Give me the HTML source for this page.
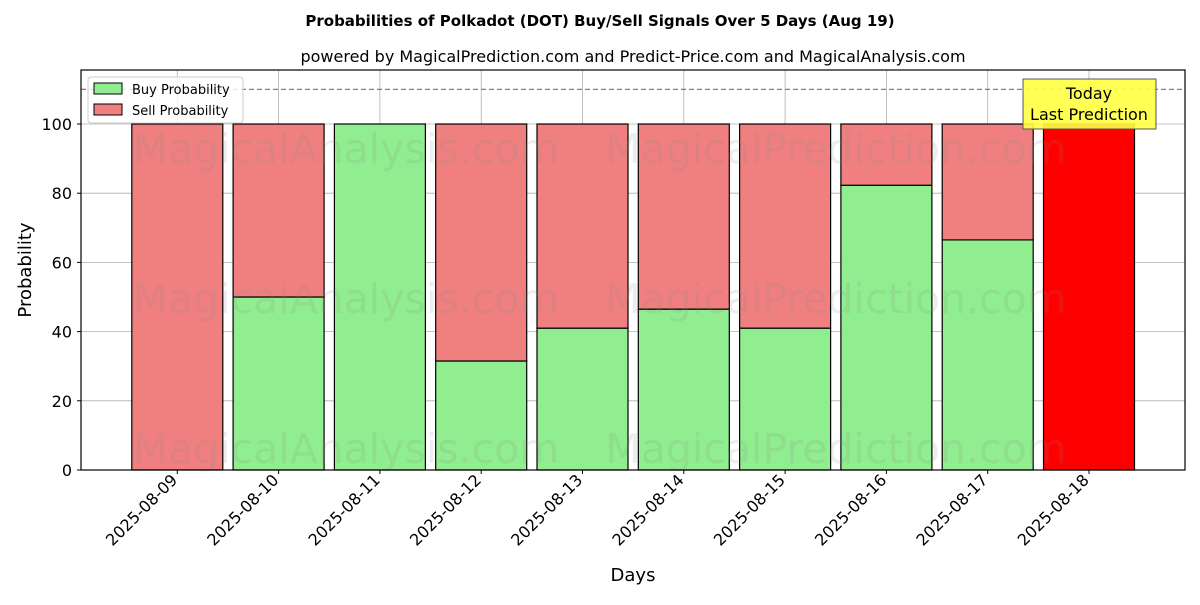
<!DOCTYPE html>
<html><head><meta charset="utf-8"><style>
body{margin:0;background:#fff;font-family:"Liberation Sans","DejaVu Sans",sans-serif;}
</style></head><body>
<svg id="chart" width="1200" height="600" xmlns="http://www.w3.org/2000/svg" font-family="DejaVu Sans, Liberation Sans, sans-serif">
<text x="600" y="26" text-anchor="middle" font-size="15" font-weight="bold">Probabilities of Polkadot (DOT) Buy/Sell Signals Over 5 Days (Aug 19)</text>
<text x="633" y="62" text-anchor="middle" font-size="16">powered by MagicalPrediction.com and Predict-Price.com and MagicalAnalysis.com</text>
<g id="grid"></g>
<g id="bars"></g>
<g id="wm" fill="#888" fill-opacity="0.15" font-size="41">
<text x="346" y="163" text-anchor="middle">MagicalAnalysis.com</text>
<text x="836" y="163" text-anchor="middle">MagicalPrediction.com</text>
<text x="346" y="313" text-anchor="middle">MagicalAnalysis.com</text>
<text x="836" y="313" text-anchor="middle">MagicalPrediction.com</text>
<text x="346" y="463" text-anchor="middle">MagicalAnalysis.com</text>
<text x="836" y="463" text-anchor="middle">MagicalPrediction.com</text>
</g>
<line x1="81" x2="1185" y1="89.4" y2="89.4" stroke="#808080" stroke-width="1.2" stroke-dasharray="5,3"/>
<rect x="81" y="70" width="1104" height="400" fill="none" stroke="#000" stroke-width="1.2"/>
<g id="ticks"></g>
<g>
<rect x="88" y="77" width="155" height="46" fill="#fff" fill-opacity="0.8" stroke="#ccc" rx="3"/>
<rect x="94" y="83" width="28" height="11" fill="#90ee90" stroke="#000"/>
<text x="132" y="94" font-size="13">Buy Probability</text>
<rect x="94" y="104" width="28" height="11" fill="#f08080" stroke="#000"/>
<text x="132" y="115" font-size="13">Sell Probability</text>
</g>
<g>
<rect x="1023" y="79" width="133" height="50" fill="#ffff44" fill-opacity="0.9" stroke="#555"/>
<text x="1089" y="99" text-anchor="middle" font-size="16">Today</text>
<text x="1089" y="120" text-anchor="middle" font-size="16">Last Prediction</text>
</g>
<text x="633" y="581" text-anchor="middle" font-size="18">Days</text>
<text x="31" y="270" text-anchor="middle" font-size="18" transform="rotate(-90 31 270)">Probability</text>
</svg>
<script>
const categories=["2025-08-09","2025-08-10","2025-08-11","2025-08-12","2025-08-13","2025-08-14","2025-08-15","2025-08-16","2025-08-17","2025-08-18"];
const buyValues=[0,50,100,31.5,41,46.5,41,82.3,66.5,0];
const sellValues=[100,50,0,68.5,59,53.5,59,17.7,33.5,100];
const yTicks=[0,20,40,60,80,100];
const NS="http://www.w3.org/2000/svg";
const xs=i=>177.3+(i)*101.3;
const ys=v=>470-v*3.46;
const bw=91;
function mk(tag,attrs,parent){const e=document.createElementNS(NS,tag);for(const k in attrs)e.setAttribute(k,attrs[k]);parent.appendChild(e);return e;}
const grid=document.getElementById('grid'),bars=document.getElementById('bars'),ticks=document.getElementById('ticks');
yTicks.forEach(t=>{
 const l=mk('line',{x1:81,x2:1185,y1:ys(t),y2:ys(t),stroke:'#b0b0b0','stroke-width':0.8},grid);
 
 
 mk('line',{x1:77,x2:81,y1:ys(t),y2:ys(t),stroke:'#000'},ticks);
 const tx=mk('text',{x:72,y:ys(t)+6,'text-anchor':'end','font-size':16},ticks);
 tx.textContent=t;
 
 
});
categories.forEach((c,i)=>{
 const x=xs(i);
 const g=mk('line',{x1:x,x2:x,y1:70,y2:470,stroke:'#b0b0b0','stroke-width':0.8},grid);
 
 
 const last=i===categories.length-1;
 if(buyValues[i]>0){
  const b=mk('rect',{x:x-bw/2,y:ys(buyValues[i]),width:bw,height:ys(0)-ys(buyValues[i]),fill:'#90ee90',stroke:'#000','stroke-width':1.2},bars);
  
  
 }
 if(sellValues[i]>0){
  const s=mk('rect',{x:x-bw/2,y:ys(buyValues[i]+sellValues[i]),width:bw,height:ys(buyValues[i])-ys(buyValues[i]+sellValues[i]),fill:last?'#ff0000':'#f08080',stroke:'#000','stroke-width':1.2},bars);
  
  
 }
 mk('line',{x1:x,x2:x,y1:470,y2:474,stroke:'#000'},ticks);
 const t=mk('text',{x:x+1,y:481,'text-anchor':'end','font-size':16,transform:`rotate(-45 ${x+1} 481)`},ticks);
 t.textContent=c;
 
 
});
</script>
</body></html>
